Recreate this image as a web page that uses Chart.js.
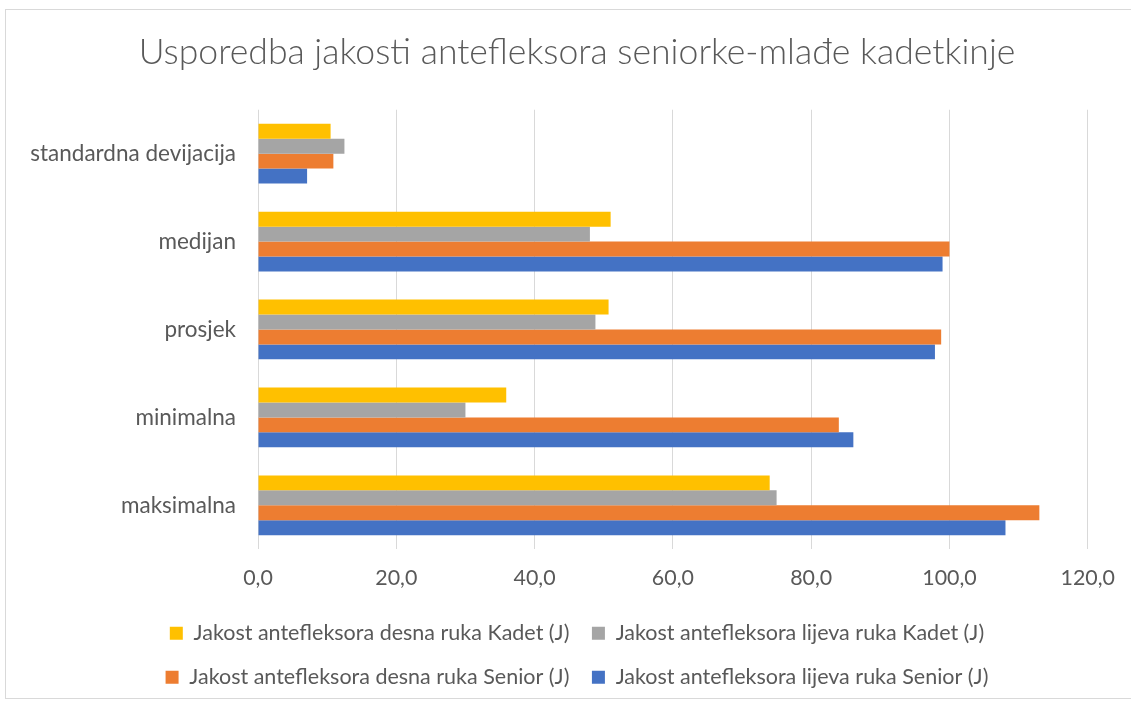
<!DOCTYPE html>
<html>
<head>
<meta charset="utf-8">
<script src="https://cdn.jsdelivr.net/npm/chart.js@4/dist/chart.umd.min.js"></script>
<style>
  html, body { margin: 0; padding: 0; background: #fff; overflow: hidden; }
  #frame { position: absolute; left: 5px; top: 9px; width: 1140px; height: 690px; border: 1px solid #d9d9d9; box-sizing: border-box; }
  #wrap { position: absolute; left: 0; top: 0; width: 1131px; height: 704px; }
</style>
</head>
<body>
<div id="frame"></div>
<div id="wrap"><canvas id="c" width="1131" height="704"></canvas></div>
<script>
const chartTitle = 'Usporedba jakosti antefleksora seniorke-mlađe kadetkinje';
const categories = ['standardna devijacija', 'medijan', 'prosjek', 'minimalna', 'maksimalna'];
const seriesNames = [
  'Jakost antefleksora desna ruka Kadet (J)',
  'Jakost antefleksora lijeva ruka Kadet (J)',
  'Jakost antefleksora desna ruka Senior (J)',
  'Jakost antefleksora lijeva ruka Senior (J)'
];
const desnaKadet   = [10.5, 51.0, 50.7, 35.9, 74.0];
const lijevaKadet  = [12.5, 48.0, 48.8, 30.0, 75.0];
const desnaSenior  = [10.9, 100.0, 98.8, 84.0, 113.0];
const lijevaSenior = [7.1, 99.0, 97.9, 86.1, 108.1];
const seriesColors = ['#FFC000', '#A5A5A5', '#ED7D31', '#4472C4'];
const axisMin = 0, axisMax = 120, axisStep = 20;

const FONT = 'Lato, "Open Sans", sans-serif';
const TXT = '#595959';
const values = [desnaKadet, lijevaKadet, desnaSenior, lijevaSenior];

new Chart(document.getElementById('c'), {
  type: 'bar',
  data: {
    labels: categories,
    datasets: values.map((v, i) => ({
      label: seriesNames[i],
      data: v,
      backgroundColor: seriesColors[i],
      borderWidth: 0,
      categoryPercentage: 0.68,
      barPercentage: 1.0
    }))
  },
  options: {
    indexAxis: 'y',
    responsive: false,
    animation: false,
    layout: { padding: { left: 27, right: 4, top: 0, bottom: 6 } },
    scales: {
      x: {
        min: axisMin, max: axisMax,
        ticks: {
          stepSize: axisStep,
          color: TXT,
          font: { family: FONT, size: 21.4 },
          padding: 16,
          callback: (v) => Number(v).toFixed(1).replace('.', ',')
        },
        grid: { color: '#d9d9d9', lineWidth: 1, drawTicks: false },
        border: { display: false },
        afterFit: (s) => { s.height = 50.75; }
      },
      y: {
        ticks: { color: TXT, font: { family: FONT, size: 22.5 }, padding: 22 },
        grid: { display: false, drawTicks: false },
        border: { display: false },
        afterFit: (s) => { s.width = 231; }
      },
      yRight: {
        type: 'category',
        position: 'right',
        display: true,
        ticks: { display: false },
        grid: { display: false, drawTicks: false },
        border: { display: false },
        afterFit: (s) => { s.width = 39; }
      }
    },
    plugins: {
      title: {
        display: true,
        text: chartTitle,
        color: TXT,
        font: { family: FONT, size: 35.6, weight: 300 },
        padding: { top: 31, bottom: 36 }
      },
      legend: {
        position: 'bottom',
        labels: {
          color: TXT,
          font: { family: FONT, size: 21.5 },
          boxWidth: 13, boxHeight: 13,
          padding: 22.5
        }
      },
      tooltip: { enabled: false }
    }
  }
});
</script>
</body>
</html>
